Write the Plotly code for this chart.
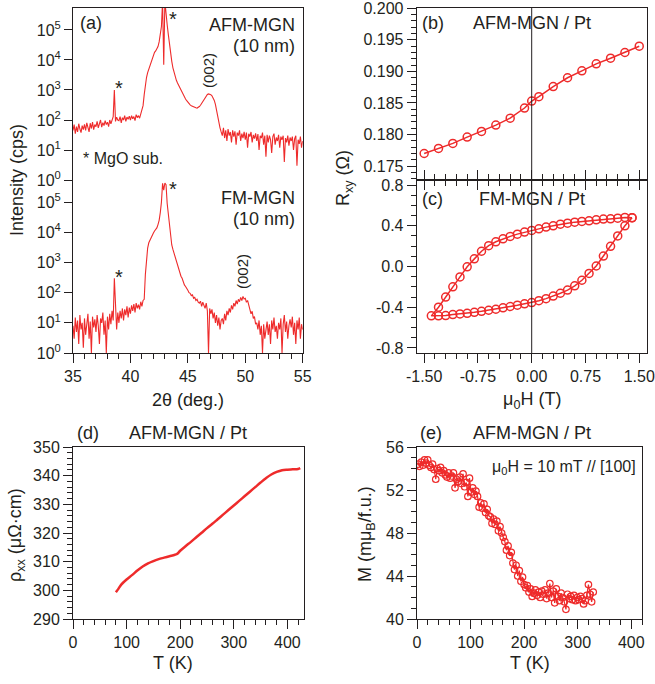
import numpy as np
import plotly.graph_objects as go

W, H = 655, 684
OFF = 0
RED = "#EE2B2B"
INK = "#231F20"
FONT = "Liberation Sans, Arial, sans-serif"

# ---------------- data ----------------
# (a) XRD, 2theta grid 35.0 ... 55.0 (0.1 deg steps)
two_theta = np.round(np.arange(350, 551) / 10.0, 1)
afm_xrd = [
    45, 70, 35, 60, 40, 75, 50, 38, 65, 48,
    72, 45, 80, 55, 40, 78, 52, 85, 48, 70,
    60, 90, 55, 75, 100, 58, 82, 65, 95, 70,
    85, 60, 100, 75, 110, 130, 1000, 90, 125, 100,
    95, 130, 80, 120, 100, 140, 90, 125, 105, 135,
    100, 140, 110, 130, 95, 150, 120, 140, 115, 160,
    180, 300, 700, 1500, 2600, 3800, 5000, 6500, 9000, 12000,
    15000, 18000, 20000, 23000, 28000, 40000, 70000, 130000, 900000, 7000,
    900000, 300000, 150000, 70000, 30000, 16000, 9000, 5500, 3800, 2800,
    2100, 1700, 1400, 1150, 950, 800, 680, 580, 500, 440,
    390, 350, 320, 300, 285, 270, 260, 255, 250, 260,
    280, 310, 360, 420, 500, 580, 650, 710, 740, 730,
    700, 640, 560, 450, 330, 200, 110, 70, 55, 40,
    30, 55, 25, 45, 20, 50, 30, 40, 18, 45,
    28, 42, 15, 38, 30, 45, 20, 35, 25, 40,
    22, 38, 12, 35, 28, 40, 18, 32, 24, 36,
    20, 34, 10, 30, 25, 38, 15, 30, 6, 32,
    18, 30, 22, 8, 28, 35, 15, 26, 20, 32,
    12, 28, 22, 30, 4, 25, 18, 30, 14, 26,
    20, 28, 10, 24, 30, 3, 22, 16, 28, 12,
    20,
]
fm_xrd = [
    8, 3, 15, 5, 12, 2, 18, 6, 10, 1.5,
    14, 4, 9, 20, 3, 11, 1, 16, 7, 13,
    5, 18, 8, 2, 14, 10, 22, 4, 12, 1,
    16, 6, 20, 9, 25, 12, 300, 18, 6, 22,
    10, 25, 14, 30, 12, 28, 18, 35, 15, 32,
    20, 38, 25, 42, 22, 45, 30, 40, 28, 50,
    35, 55, 60, 400, 1400, 3000, 4500, 5500, 7000, 8500,
    9500, 11000, 12500, 14000, 18000, 25000, 45000, 100000, 420000, 250000,
    430000, 380000, 90000, 35000, 14000, 6000, 3800, 2700, 2000, 1500,
    1100, 850, 600, 480, 350, 300, 220, 180, 160, 130,
    120, 100, 95, 80, 85, 65, 70, 55, 60, 48,
    45, 52, 35, 48, 40, 30, 45, 25, 1, 30,
    20, 28, 14, 22, 10, 18, 8, 15, 6, 12,
    14, 9, 20, 12, 25, 18, 30, 22, 38, 28,
    45, 35, 55, 42, 60, 50, 70, 55, 75, 62,
    65, 48, 55, 35, 28, 20, 24, 14, 16, 9,
    10, 6, 12, 4, 8, 1, 9, 3, 6, 11,
    4, 9, 2, 12, 6, 15, 5, 8, 3, 10,
    6, 14, 1, 9, 18, 5, 11, 3, 8, 13,
    7, 16, 4, 10, 2, 12, 6, 15, 3, 9,
    6,
]
log_tickvals = [1, 10, 100, 1000, 1e4, 1e5]
log_ticktext = ["10<sup>0</sup>", "10<sup>1</sup>", "10<sup>2</sup>",
                "10<sup>3</sup>", "10<sup>4</sup>", "10<sup>5</sup>"]

# (b) AFM-MGN/Pt Rxy vs field
h_b = [-1.5, -1.3, -1.1, -0.9, -0.7, -0.5, -0.3, -0.1, 0.0, 0.1,
       0.3, 0.5, 0.7, 0.9, 1.1, 1.3, 1.5]
rxy_b = [0.1770, 0.1778, 0.1786, 0.1796, 0.1805, 0.1815, 0.1826, 0.1842,
         0.1853, 0.1860, 0.1876, 0.1890, 0.1901, 0.1912, 0.1921, 0.1930, 0.1940]

# (c) FM-MGN/Pt hysteresis loop (sweep down, then sweep up)
h_c = [1.4, 1.3, 1.2, 1.1, 1.0, 0.9, 0.8, 0.7, 0.6, 0.5, 0.4, 0.3, 0.2, 0.1, 0.0,
       -0.1, -0.2, -0.3, -0.4, -0.5, -0.6, -0.7, -0.8, -0.9, -1.0, -1.1, -1.2, -1.3, -1.4,
       -1.3, -1.2, -1.1, -1.0, -0.9, -0.8, -0.7, -0.6, -0.5, -0.4, -0.3, -0.2, -0.1, 0.0,
       0.1, 0.2, 0.3, 0.4, 0.5, 0.6, 0.7, 0.8, 0.9, 1.0, 1.1, 1.2, 1.3, 1.4]
rxy_c = [0.480, 0.482, 0.475, 0.469, 0.466, 0.459, 0.449, 0.443, 0.436, 0.426,
         0.416, 0.400, 0.387, 0.370, 0.354, 0.338, 0.318, 0.296, 0.272, 0.243,
         0.205, 0.150, 0.075, -0.003, -0.102, -0.200, -0.300, -0.400, -0.485,
         -0.485, -0.482, -0.472, -0.466, -0.460, -0.450, -0.440, -0.430, -0.420,
         -0.406, -0.393, -0.380, -0.367, -0.354, -0.336, -0.316, -0.291, -0.263,
         -0.232, -0.190, -0.135, -0.068, 0.005, 0.103, 0.198, 0.300, 0.400, 0.478]

# (d) resistivity vs temperature
t_d = [80, 85, 90, 100, 110, 120, 130, 140, 150, 160, 170, 180, 190, 195, 200,
       210, 220, 230, 240, 250, 260, 270, 280, 290, 300, 310, 320, 330, 340,
       350, 360, 370, 380, 390, 400, 410, 420, 424]
rho_d = [299.3, 300.6, 302.0, 303.8, 305.3, 306.9, 308.3, 309.4, 310.2, 310.9,
         311.4, 311.9, 312.4, 312.8, 313.8, 315.4, 316.9, 318.5, 320.1, 321.7,
         323.2, 324.8, 326.4, 328.0, 329.6, 331.2, 332.8, 334.4, 336.0, 337.6,
         339.1, 340.4, 341.3, 341.9, 342.1, 342.2, 342.3, 342.6]

# (e) magnetization vs temperature
t_e = [2, 5, 8, 11, 14, 17, 20, 23, 26, 29, 32, 35, 38, 41, 44, 47, 50, 53, 56, 59,
       62, 65, 68, 71, 74, 77, 80, 83, 86, 89, 92, 95, 98, 101, 104, 107, 110, 113,
       116, 119, 122, 125, 128, 131, 134, 137, 140, 143, 146, 149, 152, 155, 158,
       161, 164, 167, 170, 173, 176, 179, 182, 185, 188, 191, 194, 197, 200, 203,
       206, 209, 212, 215, 218, 221, 224, 227, 230, 233, 236, 239, 242, 245, 248,
       251, 254, 257, 260, 263, 266, 269, 272, 275, 278, 281, 284, 287, 290, 293,
       296, 299, 302, 305, 308, 311, 314, 317, 320, 323, 326, 329]
m_e = [54.4, 54.2, 54.6, 54.3, 54.8, 54.5, 54.8, 54.3, 54.1, 54.4,
       53.9, 53.0, 54.0, 53.8, 54.1, 53.6, 53.8, 53.4, 53.2, 53.6,
       53.1, 53.3, 53.6, 52.2, 53.0, 52.8, 53.2, 52.6, 53.5, 52.3,
       52.7, 51.4, 53.1, 51.8, 52.2, 51.6, 51.9, 51.4, 50.4, 50.8,
       50.3, 50.7, 49.9, 50.2, 49.6, 49.5, 48.9, 49.3, 48.8, 49.1,
       48.2, 48.6, 48.0, 47.6, 47.2, 46.4, 46.8, 45.9, 46.2, 45.2,
       44.6, 45.0, 44.0, 44.5, 43.5, 43.9, 43.2, 42.9, 43.1, 42.5,
       42.8, 42.1, 42.4, 42.7, 42.2, 42.5, 42.0, 42.6, 42.3, 42.7,
       41.9, 42.4, 43.3, 42.0, 42.6, 41.5, 42.8, 42.1, 41.7, 42.4,
       42.0, 41.6, 40.9, 42.3, 41.9, 42.1, 41.8, 42.2, 41.7, 42.0,
       41.8, 42.1, 41.9, 41.4, 41.7, 42.2, 43.2, 42.3, 41.6, 42.5]
n_e = min(len(t_e), len(m_e))
t_e, m_e = t_e[:n_e], m_e[:n_e]

# ---------------- layout helpers ----------------
def px(x):
    return (x - OFF) / W

def py(y):
    return 1 - (y - OFF) / H

tickfont = dict(family=FONT, size=16, color=INK)

def lin_axis(**kw):
    base = dict(showline=True, linecolor=INK, linewidth=1, mirror=True,
                ticks="outside", ticklen=9, tickwidth=1, tickcolor=INK,
                showgrid=False, zeroline=False, tickfont=tickfont,
                automargin=False, ticklabeloverflow="allow")
    base.update(kw)
    return base

def minor(dt, t0=0):
    return dict(ticks="outside", ticklen=5, tickwidth=1, tickcolor=INK,
                tickmode="linear", tick0=t0, dtick=dt, showgrid=False)

xa_dom = [px(73), px(302.7)]
bc_dom = [px(416.7), px(646.7)]
top_dom = [py(180), py(8)]
mid_dom = [py(353), py(180)]
bot_dom = [py(619), py(447)]

fig = go.Figure()

line_xrd = dict(color=RED, width=1.1)
fig.add_trace(go.Scatter(x=two_theta, y=afm_xrd[:len(two_theta)], mode="lines",
                         line=line_xrd, xaxis="x", yaxis="y", showlegend=False))
fig.add_trace(go.Scatter(x=two_theta, y=fm_xrd[:len(two_theta)], mode="lines",
                         line=line_xrd, xaxis="x2", yaxis="y2", showlegend=False))

mk = dict(symbol="circle-open", size=8, color=RED, line=dict(width=1.5, color=RED))
fig.add_trace(go.Scatter(x=h_b, y=rxy_b, mode="lines+markers", marker=mk,
                         line=dict(color=RED, width=1.5), xaxis="x3", yaxis="y3",
                         showlegend=False))
fig.add_trace(go.Scatter(x=h_c, y=rxy_c, mode="lines+markers", marker=mk,
                         line=dict(color=RED, width=1.5), xaxis="x4", yaxis="y4",
                         showlegend=False))
fig.add_trace(go.Scatter(x=t_d, y=rho_d, mode="lines",
                         line=dict(color=RED, width=2.5, shape="spline"),
                         xaxis="x5", yaxis="y5", showlegend=False))
fig.add_trace(go.Scatter(x=t_e, y=m_e, mode="lines+markers",
                         marker=dict(symbol="circle-open", size=6.5, color=RED,
                                     line=dict(width=1.2, color=RED)),
                         line=dict(color=RED, width=1.2), xaxis="x6", yaxis="y6",
                         showlegend=False))

logrange = [0, 5.733]
fig.update_layout(
    template="none",
    width=W, height=H, autosize=False,
    margin=dict(l=0, r=0, t=0, b=0, pad=0),
    paper_bgcolor="white", plot_bgcolor="white",
    font=dict(family=FONT, size=16, color=INK),
    hovermode=False,
    # (a) top
    xaxis=dict(domain=xa_dom, range=[35, 55], anchor="y", side="top",
               showline=True, linecolor=INK, linewidth=1, ticks="",
               showticklabels=False, showgrid=False, zeroline=False,
               automargin=False),
    yaxis=lin_axis(domain=top_dom, type="log", range=logrange, anchor="x",
                   tickvals=log_tickvals, ticktext=log_ticktext, ticklen=8),
    # (a) bottom
    xaxis2=lin_axis(domain=xa_dom, range=[35, 55], anchor="y2", mirror=False,
                    tickvals=[35, 40, 45, 50, 55], minor=minor(1, 35)),
    yaxis2=lin_axis(domain=mid_dom, type="log", range=logrange, anchor="x2",
                    tickvals=log_tickvals, ticktext=log_ticktext, ticklen=8),
    # (b)
    xaxis3=lin_axis(domain=bc_dom, range=[-1.604, 1.604], anchor="y3",
                    tickvals=[-1.5, -0.75, 0, 0.75, 1.5], showticklabels=False,
                    minor=minor(0.15, 0)),
    yaxis3=lin_axis(domain=top_dom, range=[0.1728, 0.20005], anchor="x3",
                    tickvals=[0.175, 0.18, 0.185, 0.19, 0.195, 0.2],
                    ticktext=["0.175", "0.180", "0.185", "0.190", "0.195", "0.200"],
                    minor=minor(0.001, 0.175)),
    # (c)
    xaxis4=lin_axis(domain=bc_dom, range=[-1.604, 1.604], anchor="y4", mirror="ticks",
                    tickvals=[-1.5, -0.75, 0, 0.75, 1.5],
                    ticktext=["-1.50", "-0.75", "0.00", "0.75", "1.50"],
                    minor=minor(0.15, 0)),
    yaxis4=lin_axis(domain=mid_dom, range=[-0.85, 0.85], anchor="x4",
                    tickvals=[-0.8, -0.4, 0, 0.4, 0.8],
                    ticktext=["-0.8", "-0.4", "0.0", "0.4", "0.8"],
                    minor=minor(0.1, 0)),
    # (d)
    xaxis5=lin_axis(domain=[px(73), px(304)], range=[0, 431], anchor="y5",
                    tickvals=[0, 100, 200, 300, 400], minor=minor(20, 0)),
    yaxis5=lin_axis(domain=bot_dom, range=[290, 350], anchor="x5",
                    tickvals=[290, 300, 310, 320, 330, 340, 350], minor=minor(2, 290)),
    # (e)
    xaxis6=lin_axis(domain=[px(417), px(642)], range=[0, 420], anchor="y6",
                    tickvals=[0, 100, 200, 300, 400], minor=minor(20, 0)),
    yaxis6=lin_axis(domain=bot_dom, range=[40, 56], anchor="x6",
                    tickvals=[40, 44, 48, 52, 56], minor=minor(1, 40)),
)

# vertical zero-field lines in (b) and (c)
for xr, yr in (("x3", "y3 domain"), ("x4", "y4 domain")):
    fig.add_shape(type="line", xref=xr, yref=yr, x0=0, x1=0, y0=0, y1=1,
                  line=dict(color=INK, width=1))

def note(text, x, y, size=18, xanchor="center", yanchor="middle", angle=0):
    fig.add_annotation(text=text, x=px(x), y=py(y), xref="paper", yref="paper",
                       showarrow=False, xanchor=xanchor, yanchor=yanchor,
                       textangle=angle, font=dict(family=FONT, size=size, color=INK))

# panel (a)
note("(a)", 78, 23, xanchor="left")
note("AFM-MGN", 297, 25, xanchor="right")
note("(10 nm)", 297, 46, xanchor="right")
note("(002)", 209, 71, size=15, angle=-90)
note("*", 119, 88, size=20)
note("*", 173, 19, size=20)
note("* MgO sub.", 81, 158, size=16, xanchor="left")
note("FM-MGN", 297, 198, xanchor="right")
note("(10 nm)", 297, 219, xanchor="right")
note("(002)", 242, 272, size=15, angle=-90)
note("*", 119, 277, size=20)
note("*", 173, 189, size=20)
note("Intensity (cps)", 17, 180, angle=-90)
note("2θ (deg.)", 188, 400)

# panels (b), (c)
note("(b)", 420, 23, xanchor="left")
note("AFM-MGN / Pt", 532, 23)
note("(c)", 420, 199, xanchor="left")
note("FM-MGN / Pt", 532, 199)
note("R<sub>xy</sub> (Ω)", 344, 178, angle=-90)
note("μ<sub>0</sub>H (T)", 532, 400)

# panel (d)
note("(d)", 75, 433, xanchor="left")
note("AFM-MGN / Pt", 188, 433)
note("ρ<sub>xx</sub> (μΩ·cm)", 16, 535, angle=-90)
note("T (K)", 173, 663)

# panel (e)
note("(e)", 418, 433, xanchor="left")
note("AFM-MGN / Pt", 532, 433)
note("μ<sub>0</sub>H = 10 mT // [100]", 638, 467, size=16, xanchor="right")
note("M (mμ<sub>B</sub>/f.u.)", 366, 534, angle=-90)
note("T (K)", 530, 663)

fig.write_html("out.html",
               config={"displayModeBar": False, "staticPlot": True},
               post_script="document.body.style.margin='0';"
                           "document.body.style.overflow='hidden';")
